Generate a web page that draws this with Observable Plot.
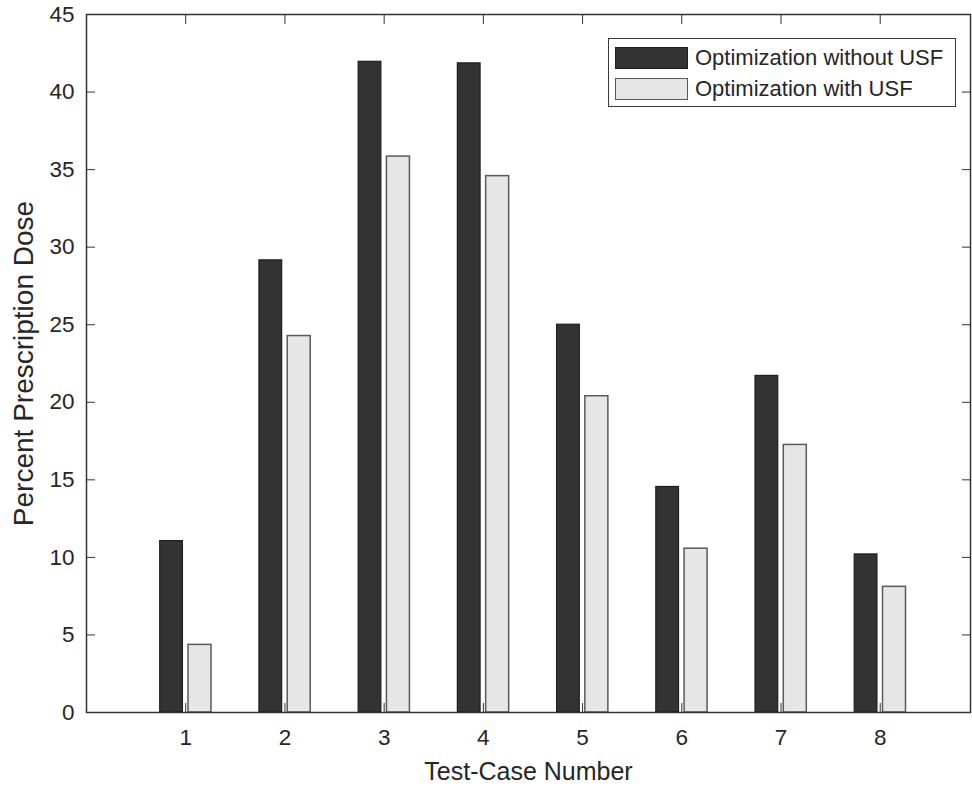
<!DOCTYPE html>
<html>
<head>
<meta charset="utf-8">
<script src="https://cdn.jsdelivr.net/npm/d3@7"></script>
<script src="https://cdn.jsdelivr.net/npm/@observablehq/plot@0.6"></script>
<style>
  html, body { margin: 0; padding: 0; background: #fff; }
  #wrap { position: relative; width: 972px; height: 790px; font-family: "Liberation Sans", Arial, sans-serif; }
  #legend { position: absolute; left: 608px; top: 38px; width: 346px; height: 67px; border: 1px solid #3a3a3a; background: #fff; box-sizing: content-box; }
  .item { position: absolute; left: 6px; display: flex; align-items: center; font-size: 22px; color: #262626; }
  .sw { width: 73px; height: 22px; margin-right: 7px; box-sizing: border-box; }
</style>
</head>
<body>
<div id="wrap"></div>
<script>
const cases = [1, 2, 3, 4, 5, 6, 7, 8];
const withoutUSF = [11.05, 29.15, 41.95, 41.85, 25.0, 14.54, 21.7, 10.19];
const withUSF = [4.36, 24.27, 35.84, 34.58, 20.39, 10.56, 17.25, 8.1];
const yTicks = [0, 5, 10, 15, 20, 25, 30, 35, 40, 45];
const xLabel = "Test-Case Number";
const yLabel = "Percent Prescription Dose";
const seriesNames = ["Optimization without USF", "Optimization with USF"];
const colors = ["#333333", "#e6e6e6"];
const strokes = ["#1e1e1e", "#5a5a5a"];

const dataA = cases.map((c, i) => ({case: c, value: withoutUSF[i]}));
const dataB = cases.map((c, i) => ({case: c, value: withUSF[i]}));

const axisColor = "#333333";
const chart = Plot.plot({
  width: 972,
  height: 790,
  marginLeft: 86,
  marginRight: 2,
  marginTop: 14,
  marginBottom: 78,
  style: {fontFamily: "'Liberation Sans', Arial, sans-serif", fontSize: "22.5px", color: "#262626", background: "#fff"},
  x: {type: "linear", domain: [0, 8.91]},
  y: {domain: [0, 45]},
  marks: [
    Plot.axisX(cases, {anchor: "bottom", tickSize: -9, tickPadding: 26, label: null, stroke: axisColor, fill: "#262626"}),
    Plot.axisX(cases, {anchor: "top", tickSize: -9, tickFormat: () => "", label: null, stroke: axisColor}),
    Plot.axisY(yTicks, {anchor: "left", tickSize: -9, tickPadding: 21, label: null, stroke: axisColor, fill: "#262626"}),
    Plot.axisY(yTicks, {anchor: "right", tickSize: -9, tickFormat: () => "", label: null, stroke: axisColor}),
    Plot.rectY(dataA, {x1: d => d.case - 0.257, x2: d => d.case - 0.028, y: "value", fill: colors[0], stroke: strokes[0], strokeWidth: 1.2}),
    Plot.rectY(dataB, {x1: d => d.case + 0.028, x2: d => d.case + 0.26, y: "value", fill: colors[1], stroke: strokes[1], strokeWidth: 1.5}),
    Plot.frame({stroke: axisColor, strokeWidth: 1.5}),
    Plot.text([xLabel], {text: d => d, frameAnchor: "bottom", dy: 67, fontSize: 25, fill: "#262626"}),
    Plot.text([yLabel], {text: d => d, frameAnchor: "left", textAnchor: "middle", dx: -62, rotate: -90, fontSize: 28, fill: "#262626"})
  ]
});

const wrap = document.getElementById("wrap");
wrap.appendChild(chart);

const legend = document.createElement("div");
legend.id = "legend";
seriesNames.forEach((name, i) => {
  const item = document.createElement("div");
  item.className = "item";
  item.style.top = (i === 0 ? 6 : 37) + "px";
  const sw = document.createElement("div");
  sw.className = "sw";
  sw.style.background = colors[i];
  sw.style.border = "1.5px solid " + strokes[i];
  const t = document.createElement("span");
  t.textContent = name;
  item.appendChild(sw);
  item.appendChild(t);
  legend.appendChild(item);
});
wrap.appendChild(legend);
</script>
</body>
</html>
